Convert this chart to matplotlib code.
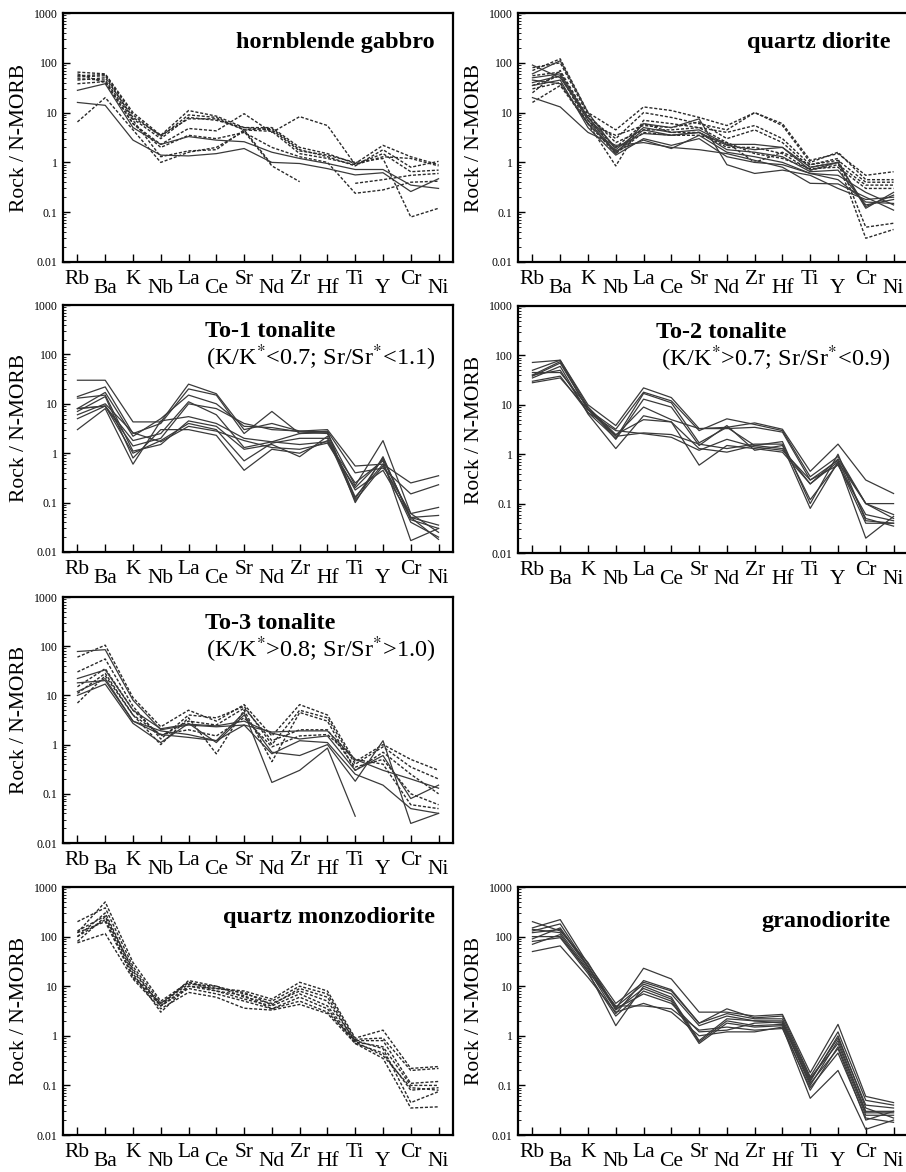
import numpy as np
import matplotlib
matplotlib.use('Agg')
import matplotlib.pyplot as plt
from matplotlib.ticker import FixedLocator, FixedFormatter, LogLocator, NullFormatter

plt.rcParams['font.family'] = ['Liberation Serif', 'DejaVu Serif']
plt.rcParams['mathtext.fontset'] = 'stix'

nan = np.nan
elements = ["Rb", "Ba", "K", "Nb", "La", "Ce", "Sr", "Nd", "Zr", "Hf", "Ti", "Y", "Cr", "Ni"]

#===============================================================================
# hornblende gabbro
hbg_solid = [
    [28, 38, 5.0, 2.3, 3.3, 2.8, 2.6, 1.6, 1.2, 0.95, 0.72, 0.72, 0.35, 0.30],
    [16, 14, 2.8, 1.4, 1.35, 1.5, 1.9, 1.0, 0.95, 0.75, 0.56, 0.62, 0.26, 0.47],
]
hbg_dot = [
    [65, 60, 10, 3.5, 11, 8.5, 5.0, 5.0, 2.0, 1.5, 0.95, 2.2, 1.3, 0.9],
    [55, 58, 9, 3.3, 9, 8.0, 4.5, 4.8, 1.8, 1.3, 0.85, 1.8, 0.8, 1.05],
    [45, 50, 8, 3.5, 7.5, 7.5, 4.5, 4.2, 1.5, 1.2, 0.9, 1.5, 0.65, 0.7],
    [38, 42, 6, 2.3, 4.8, 4.3, 9.5, 4.0, 8.3, 5.5, 0.9, 1.3, 1.2, 0.85],
    [6.5, 20, 4.5, 1.0, 1.6, 2.0, 4.2, 0.85, 0.41, nan, nan, nan, nan, nan],
    [48, 45, 7, 1.3, 1.7, 1.8, 4.5, 0.9, nan, nan, 0.38, 0.45, 0.55, 0.6],
    [60, 40, 6, 2.0, 3.5, 3.0, 4.0, 2.0, 1.3, 1.0, 0.24, 0.28, 0.4, 0.42],
    [52, 55, 7.5, 3.0, 8, 7.0, 5.0, 4.5, 1.7, 1.4, 1.0, 1.2, 0.08, 0.12],
]

# quartz diorite
qd_solid = [
    [90, 50, 8, 1.6, 4.5, 3.5, 4.0, 2.2, 1.8, 2.0, 0.7, 1.0, 0.12, 0.25],
    [20, 13, 4, 2.2, 2.5, 2.0, 1.8, 1.5, 1.1, 0.8, 0.38, 0.37, 0.2, 0.11],
    [40, 55, 7, 1.5, 6, 5, 7.5, 0.9, 0.6, 0.7, 0.55, 0.3, 0.18, 0.2],
    [60, 110, 10, 1.8, 5, 4, 4.5, 2.3, 2.3, 2.0, 0.8, 1.0, 0.13, 0.22],
    [35, 45, 5, 1.4, 3, 2.2, 3, 1.3, 1.0, 0.9, 0.6, 0.45, 0.16, 0.15],
    [50, 60, 8, 2.0, 3.8, 3.5, 4, 1.8, 1.6, 1.3, 0.65, 0.7, 0.14, 0.18],
    [45, 38, 6, 1.7, 2.8, 1.9, 3.5, 1.6, 1.3, 1.0, 0.6, 0.55, 0.25, 0.14],
]
qd_dot = [
    [70, 120, 10, 4.5, 13, 11, 8, 5.5, 10, 6, 1.1, 1.5, 0.55, 0.65],
    [25, 70, 8, 3.0, 10, 8, 6, 4.5, 10, 5.5, 1.0, 1.6, 0.45, 0.45],
    [30, 40, 6, 0.85, 7, 6, 5, 4.0, 5.5, 3.0, 0.9, 1.2, 0.05, 0.06],
    [16, 35, 6, 3.5, 5.5, 5, 6.5, 3.0, 4.5, 2.5, 0.8, 1.0, 0.03, 0.045],
    [80, 100, 9, 2.5, 4.5, 4.5, 5, 2.5, 1.0, 1.6, 0.9, 1.1, 0.4, 0.4],
    [55, 65, 7, 2.0, 6, 4, 4, 2.0, 2.0, 1.5, 0.7, 0.9, 0.35, 0.35],
    [35, 55, 6, 1.5, 4, 3.5, 3.5, 2.5, 1.5, 1.2, 0.75, 0.8, 0.3, 0.3],
]

# To-1 tonalite
to1_solid = [
    [30, 30, 4.3, 4.3, 25, 16, 3.0, 4.0, 2.8, 3.0, 0.55, 0.6, 0.25, 0.35],
    [14, 22, 2.5, 4.0, 20, 15, 2.5, 7.0, 2.5, 2.8, 0.4, 0.5, 0.15, 0.23],
    [8, 17, 2.2, 5.0, 15, 10, 3.5, 3.3, 2.7, 2.5, 0.22, 1.8, 0.06, 0.08],
    [8, 9, 1.8, 2.5, 11, 6, 1.3, 1.7, 2.5, 2.6, 0.12, 0.8, 0.05, 0.055],
    [5, 9, 1.4, 2.0, 10, 8, 4.0, 3.0, 2.8, 2.7, 0.1, 0.85, 0.045, 0.03],
    [3, 8, 0.6, 4.5, 5.5, 4, 2.0, 1.7, 1.5, 1.7, 0.25, 0.7, 0.017, 0.03],
    [13, 15, 1.1, 1.5, 4.5, 3.5, 1.2, 1.5, 0.85, 2.2, 0.13, 0.6, 0.04, 0.02],
    [7, 14, 0.8, 3.0, 3.0, 2.3, 0.45, 1.2, 1.0, 1.8, 0.18, 0.45, 0.05, 0.018],
    [8, 9, 1.0, 1.8, 4.0, 3.0, 0.7, 1.6, 2.0, 2.0, 0.11, 0.55, 0.06, 0.025],
    [6, 10, 2.6, 1.7, 3.5, 2.8, 1.8, 1.3, 1.2, 1.6, 0.2, 0.75, 0.05, 0.035],
]

# To-2 tonalite
to2_solid = [
    [72, 80, 10, 3.8, 22, 14, 3.3, 3.5, 4.3, 3.2, 0.45, 1.6, 0.3, 0.16],
    [40, 75, 8, 3.2, 18, 12, 3.0, 5.2, 4.0, 3.0, 0.35, 0.9, 0.1, 0.1],
    [30, 38, 7, 2.1, 17, 11, 1.7, 3.5, 1.5, 1.8, 0.1, 1.0, 0.045, 0.04],
    [45, 45, 9, 2.0, 13, 9, 1.5, 3.8, 1.2, 1.5, 0.08, 0.7, 0.02, 0.055],
    [38, 70, 8, 2.4, 9, 5, 3.3, 3.3, 3.5, 2.8, 0.3, 0.75, 0.05, 0.035],
    [35, 60, 6.5, 1.3, 6, 4.5, 0.6, 1.5, 1.3, 1.1, 0.25, 0.7, 0.1, 0.05],
    [28, 35, 8, 2.3, 2.7, 2.5, 1.6, 1.3, 1.6, 1.6, 0.12, 0.65, 0.04, 0.04],
    [50, 80, 9, 2.5, 5, 4.5, 1.3, 1.1, 1.5, 1.3, 0.25, 0.8, 0.1, 0.06],
    [40, 50, 7, 3.0, 2.6, 2.2, 1.2, 2.0, 1.4, 1.2, 0.3, 0.6, 0.06, 0.045],
]

# To-3 tonalite
to3_solid = [
    [78, 85, 8, 2.0, 2.5, 2.3, 2.5, 1.8, 1.9, 1.9, 0.5, 0.3, 0.2, 0.13],
    [22, 33, 5, 2.1, 2.6, 2.4, 3.0, 1.7, 1.3, 1.5, 0.3, 0.6, 0.08, 0.15],
    [18, 20, 3, 1.6, 1.4, 1.2, 4.5, 0.17, 0.3, 0.85, 0.035, nan, nan, nan],
    [10, 17, 2.7, 1.1, 2.7, 1.1, 4.0, 0.7, 0.6, 1.0, 0.18, 1.2, 0.025, 0.04],
    [12, 22, 3, 1.9, 1.6, 1.2, 2.5, 0.65, 1.2, 1.1, 0.25, 0.15, 0.05, 0.04],
]
to3_dot = [
    [60, 105, 9, 2.3, 5, 3.0, 6.5, 1.5, 6.5, 4.0, 0.45, 1.0, 0.5, 0.3],
    [30, 55, 6, 1.3, 4, 3.5, 6.0, 1.0, 5.0, 3.5, 0.4, 0.9, 0.35, 0.2],
    [7, 25, 4, 1.0, 3.5, 0.65, 5.0, 0.45, 4.5, 3.0, 0.3, 0.7, 0.25, 0.1],
    [15, 35, 5, 1.5, 3, 2.5, 5.5, 1.2, 2.0, 2.0, 0.35, 0.5, 0.1, 0.06],
    [11, 28, 4, 1.6, 2, 1.5, 3.5, 0.9, 1.5, 1.6, 0.5, 0.4, 0.06, 0.05],
]

# quartz monzodiorite
qmd_dot = [
    [120, 500, 30, 5.0, 12, 9, 8, 5.5, 12, 8, 0.9, 1.3, 0.22, 0.24],
    [200, 380, 25, 4.5, 11, 10, 7, 5.0, 10, 7, 0.85, 0.9, 0.2, 0.22],
    [100, 300, 20, 4.0, 13, 10, 6, 4.5, 8, 5, 0.8, 0.8, 0.11, 0.12],
    [80, 250, 18, 3.0, 10, 8, 5.5, 4.0, 7, 4, 0.75, 0.6, 0.1, 0.1],
    [120, 200, 15, 4.0, 9, 7, 5, 3.5, 6, 3.5, 0.7, 0.45, 0.08, 0.09],
    [75, 115, 14, 3.5, 7.5, 6, 3.6, 3.3, 4.3, 2.8, 0.7, 0.35, 0.035, 0.037],
    [100, 220, 16, 4.5, 12, 8, 6.5, 3.5, 5, 3, 0.8, 0.55, 0.045, 0.075],
    [130, 260, 22, 4.0, 10, 9, 7.5, 4.2, 9, 6, 0.75, 0.4, 0.09, 0.08],
]

# granodiorite
grd_solid = [
    [200, 130, 30, 3.5, 23, 14, 3.0, 3.0, 2.5, 2.7, 0.18, 1.7, 0.06, 0.045],
    [150, 220, 28, 4.5, 12, 8, 1.8, 3.5, 2.3, 2.5, 0.15, 1.2, 0.05, 0.04],
    [130, 180, 25, 3.8, 11, 7, 1.6, 2.5, 2.0, 2.0, 0.13, 0.9, 0.04, 0.035],
    [100, 100, 20, 1.6, 10, 6, 0.8, 2.2, 2.0, 1.8, 0.1, 0.8, 0.03, 0.03],
    [80, 95, 18, 2.5, 8, 5, 0.7, 1.8, 1.5, 1.6, 0.08, 0.6, 0.025, 0.025],
    [50, 65, 15, 3.0, 4.5, 3.0, 1.0, 1.2, 1.2, 1.5, 0.055, 0.2, 0.013, 0.02],
    [70, 110, 20, 4.0, 4, 3.5, 1.3, 1.5, 1.3, 1.4, 0.09, 0.45, 0.022, 0.018],
    [120, 140, 24, 3.3, 9, 5.5, 0.75, 2.0, 1.6, 1.7, 0.12, 1.0, 0.035, 0.022],
    [140, 120, 22, 2.8, 13, 8.5, 1.8, 2.8, 2.2, 2.2, 0.14, 0.7, 0.028, 0.028],
    [90, 150, 25, 3.5, 7, 4.5, 1.2, 1.3, 1.8, 1.9, 0.11, 0.55, 0.02, 0.03],
]

#===============================================================================
W, H = 906, 1172
fig = plt.figure(figsize=(W/100, H/100), dpi=100)

def panel(left_px, top_px, bottom_px, solid, dotted, title, sub=None, title_x=0.954, title_y=0.86, title_ha='right'):
    ax = fig.add_axes([left_px/W, 1 - bottom_px/H, 390/W, (bottom_px - top_px)/H])
    x = np.arange(len(elements))
    for row in dotted:
        ax.plot(x, row, color='#2a2a2a', lw=1.0, linestyle=(0, (2.2, 1.3)))
    for row in solid:
        ax.plot(x, row, color='#3a3a3a', lw=0.9)
    ax.set_yscale('log')
    ax.set_ylim(0.01, 1000)
    ax.set_xlim(-0.52, 13.52)
    ax.yaxis.set_major_locator(FixedLocator([0.01, 0.1, 1, 10, 100, 1000]))
    ax.yaxis.set_major_formatter(FixedFormatter(['0.01', '0.1', '1', '10', '100', '1000']))
    ax.yaxis.set_minor_locator(LogLocator(base=10, subs=np.arange(2, 10)))
    ax.yaxis.set_minor_formatter(NullFormatter())
    ax.set_xticks(x)
    ax.set_xticklabels([])
    ax.tick_params(axis='y', which='major', direction='in', length=5, width=1, labelsize=8.5, pad=4)
    ax.tick_params(axis='y', which='minor', direction='in', length=2.5, width=0.6)
    ax.tick_params(axis='x', direction='in', length=6, width=1)
    for s in ax.spines.values():
        s.set_linewidth(1.6)
    ax.set_ylabel('Rock / N-MORB', fontsize=15.5, labelpad=3)
    for i, el in enumerate(elements):
        yy = -0.033 if i % 2 == 0 else -0.07
        ax.text(i, yy, el, transform=ax.get_xaxis_transform(), ha='center', va='top', fontsize=15.5)
    ax.text(title_x, title_y, title, transform=ax.transAxes, ha=title_ha, va='baseline',
            fontsize=17.5, fontweight='bold')
    if sub:
        ax.text(0.954, 0.757, sub, transform=ax.transAxes, ha='right', va='baseline', fontsize=17.5)
    return ax

panel(63, 13, 262, hbg_solid, hbg_dot, 'hornblende gabbro')
panel(518, 13, 262, qd_solid, qd_dot, 'quartz diorite')
panel(63, 305, 552, to1_solid, [], 'To-1 tonalite', r'(K/K$^{*}$<0.7; Sr/Sr$^{*}$<1.1)',
      title_x=0.53, title_y=0.87, title_ha='center')
panel(518, 306, 553, to2_solid, [], 'To-2 tonalite', r'(K/K$^{*}$>0.7; Sr/Sr$^{*}$<0.9)',
      title_x=0.52, title_y=0.87, title_ha='center')
panel(63, 597, 843, to3_solid, to3_dot, 'To-3 tonalite', r'(K/K$^{*}$>0.8; Sr/Sr$^{*}$>1.0)',
      title_x=0.53, title_y=0.87, title_ha='center')
panel(63, 887, 1135, [], qmd_dot, 'quartz monzodiorite', title_y=0.855)
panel(518, 887, 1135, grd_solid, [], 'granodiorite', title_y=0.84)

fig.savefig('out.png', dpi=100)
